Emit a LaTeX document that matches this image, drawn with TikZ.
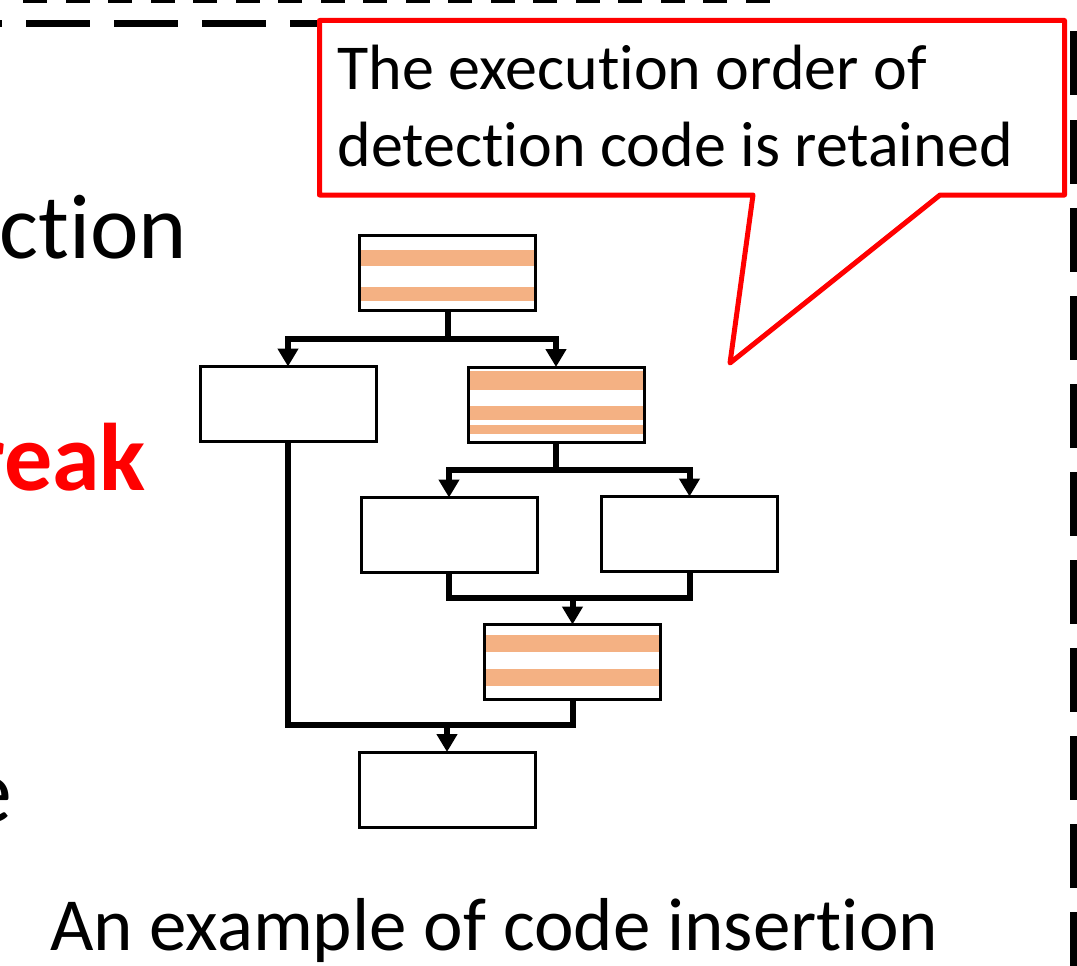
\documentclass[tikz,border=0pt]{standalone}
\usepackage{fontspec}
\setmainfont{Carlito}[Ligatures={NoCommon}]
\usetikzlibrary{arrows.meta,calc}
\definecolor{stripe}{RGB}{244,177,131}
\definecolor{alertred}{RGB}{255,0,0}

\begin{document}
\begin{tikzpicture}[x=1pt,y=-1pt,
  blk/.style={draw=black, line width=3pt, fill=white, minimum width=176pt,
    minimum height=75pt, inner sep=0pt, outer sep=0pt},
  wire/.style={line width=6pt},
  conn/.style={wire, -{Triangle[length=18pt,width=20pt]}},
  band/.style={fill=stripe},
  txt/.style={inner sep=0pt, outer sep=0pt}]
\useasboundingbox (0,0) rectangle (1077,966);
\clip (0,0) rectangle (1077,966);

% dashed frames
\draw[line width=6pt, dash pattern=on 24pt off 18.5pt] (23,0.5) -- (770,0.5);
\draw[line width=7.5pt, dash pattern=on 64pt off 24pt] (-62,23.5) -- (1074,23.5) -- (1074,1000);

% speech bubble
\draw[draw=alertred, line width=5pt, fill=white, line join=round]
  (319.5,20.5) -- (1064.5,20.5) -- (1064.5,195) -- (940,195) -- (730,363)
  -- (753,195) -- (319.5,195) -- cycle;
\node[txt, anchor=base west, font=\fontsize{64}{75}\selectfont] (note1) at (337.5,90) {The execution order of};
\node[txt, anchor=base west, font=\fontsize{64}{75}\selectfont] (note2) at (337.5,166) {detection code is retained};

% text on the left edge
\node[txt, anchor=base east, font=\fontsize{92}{100}\selectfont] (frag1) at (187,258) {ction};
\node[txt, anchor=base east, font=\fontsize{96}{100}\selectfont\bfseries, text=alertred] (frag2) at (146,490) {reak};
\node[txt, anchor=base east, font=\fontsize{92}{100}\selectfont] (frag3) at (12.5,822) {e};
\node[txt, anchor=base west, font=\fontsize{75}{80}\selectfont] (caption) at (50,950) {An example of code insertion};

% basic blocks
\node[blk] (b1) at (447.5,273) {};
\node[blk] (b2L) at (288,404) {};
\node[blk] (b2R) at (556,404.5) {};
\node[blk] (b3L) at (449,535) {};
\node[blk] (b3R) at (689.5,534) {};
\node[blk] (b4) at (572.5,662) {};
\node[blk] (b5) at (447,789.5) {};

% inserted detection code
\fill[band] ($(b1.north west)+(1.5,14.5)$) rectangle ($(b1.north east)+(-1.5,30.5)$);
\fill[band] ($(b1.north west)+(1.5,51.5)$) rectangle ($(b1.north east)+(-1.5,65.5)$);
\fill[band] ($(b2R.north west)+(1.5,4)$) rectangle ($(b2R.north east)+(-1.5,23)$);
\fill[band] ($(b2R.north west)+(1.5,39)$) rectangle ($(b2R.north east)+(-1.5,53)$);
\fill[band] ($(b2R.north west)+(1.5,58)$) rectangle ($(b2R.north east)+(-1.5,67)$);
\fill[band] ($(b4.north west)+(1.5,10.5)$) rectangle ($(b4.north east)+(-1.5,27.5)$);
\fill[band] ($(b4.north west)+(1.5,44.5)$) rectangle ($(b4.north east)+(-1.5,61.5)$);

% control flow
\coordinate (j1) at (447.5,339);
\draw[wire] (b1.south) -- (j1);
\draw[conn] (j1) -| (b2L.north);
\draw[conn] (j1) -| (b2R.north);

\coordinate (j2) at (556,469.5);
\draw[wire] (b2R.south) -- (j2);
\draw[conn] (j2) -| (b3L.north);
\draw[conn] (j2) -| (b3R.north);

\coordinate (j3) at (572.5,597.5);
\draw[wire] (b3L.south) |- (j3) -| (b3R.south);
\draw[conn] (j3) -- (b4.north);

\coordinate (j4) at (447,724.5);
\draw[wire] (b2L.south) |- (j4) -| (b4.south);
\draw[conn] (j4) -- (b5.north);
\end{tikzpicture}
\end{document}
